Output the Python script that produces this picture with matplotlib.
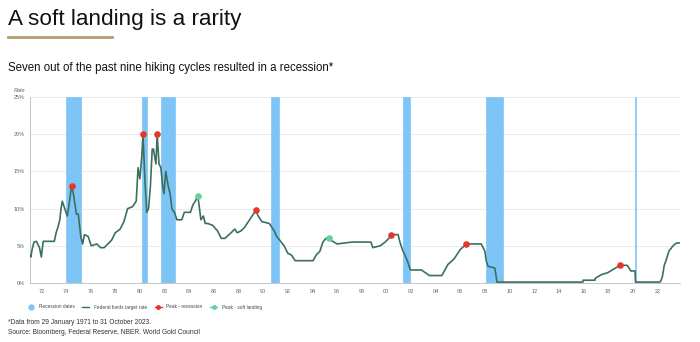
import matplotlib.pyplot as plt
from matplotlib.lines import Line2D

plt.rcParams['font.family'] = ['Liberation Sans', 'DejaVu Sans']

# federal funds target rate, change points (decimal year, %)
years = [1971.08, 1971.15, 1971.25, 1971.4, 1971.6, 1971.85, 1972.0, 1972.15, 1973.05,
         1973.2, 1973.35, 1973.5, 1973.6, 1973.7, 1974.1, 1974.25, 1974.45, 1974.6,
         1974.85, 1975.0, 1975.2, 1975.35, 1975.5, 1975.8, 1976.05, 1976.5, 1976.8,
         1977.1, 1977.4, 1977.7, 1978.0, 1978.4, 1978.7, 1979.0, 1979.4, 1979.7,
         1979.85, 1980.0, 1980.15, 1980.25, 1980.4, 1980.55, 1980.7, 1980.85, 1981.0,
         1981.1, 1981.3, 1981.4, 1981.55, 1981.7, 1981.85, 1981.95, 1982.1, 1982.3,
         1982.45, 1982.6, 1982.8, 1983.0, 1983.4, 1983.6, 1984.1, 1984.3, 1984.5,
         1984.7, 1984.95, 1985.15, 1985.3, 1985.5, 1985.9, 1986.3, 1986.6, 1986.9,
         1987.4, 1987.7, 1987.9, 1988.2, 1988.5, 1988.8, 1989.1, 1989.4, 1989.6,
         1989.9, 1990.5, 1990.9, 1991.1, 1991.35, 1991.7, 1992.0, 1992.3, 1992.6,
         1994.05, 1994.3, 1994.6, 1994.85, 1995.1, 1995.5, 1996.0, 1997.2, 1998.75,
         1998.9, 1999.5, 1999.9, 2000.2, 2000.4, 2000.95, 2001.1, 2001.3, 2001.5,
         2001.7, 2001.95, 2002.85, 2003.5, 2004.5, 2005.0, 2005.5, 2006.0, 2006.5,
         2007.7, 2007.85, 2008.0, 2008.1, 2008.25, 2008.8, 2008.9, 2008.97,
         2015.95, 2015.97, 2016.93, 2016.95, 2017.2, 2017.45, 2017.95, 2018.2, 2018.45,
         2018.7, 2018.96, 2019.55, 2019.65, 2019.75, 2019.83, 2020.18, 2020.22, 2022.2,
         2022.3, 2022.4, 2022.48, 2022.55, 2022.72, 2022.85, 2022.96, 2023.1, 2023.2,
         2023.35, 2023.55, 2023.83]
rates = [3.7, 3.5, 4.5, 5.5, 5.6, 4.75, 3.5, 5.6, 5.6,
         6.75, 7.5, 8.5, 10.0, 11.0, 9.0, 10.5, 13.0, 12.0,
         9.25, 9.25, 6.25, 5.25, 6.5, 6.25, 5.0, 5.25, 4.75,
         4.75, 5.25, 5.75, 6.75, 7.25, 8.25, 10.0, 10.25, 11.0,
         15.5, 14.0, 17.0, 20.0, 14.0, 9.5, 10.0, 13.0, 18.0,
         18.0, 16.0, 20.0, 16.0, 15.5, 13.0, 12.0, 15.0, 13.0,
         12.0, 10.0, 9.5, 8.5, 8.5, 9.5, 9.5, 10.5, 11.0,
         11.75, 8.5, 9.0, 8.0, 8.0, 7.75, 7.0, 6.0, 6.0,
         6.75, 7.25, 6.75, 7.0, 7.5, 8.25, 9.0, 9.75, 9.0,
         8.25, 8.0, 7.0, 6.25, 5.75, 5.0, 4.0, 3.75, 3.0,
         3.0, 3.75, 4.25, 5.5, 6.0, 5.75, 5.25, 5.5, 5.5,
         4.75, 5.0, 5.5, 6.0, 6.5, 6.5, 5.5, 4.5, 3.75,
         3.0, 1.75, 1.75, 1.0, 1.0, 2.5, 3.25, 4.5, 5.25,
         5.25, 4.75, 4.25, 3.0, 2.25, 2.0, 1.0, 0.125,
         0.125, 0.375, 0.375, 0.625, 0.875, 1.125, 1.375, 1.625, 1.875,
         2.125, 2.375, 2.375, 2.125, 1.875, 1.625, 1.625, 0.125, 0.125,
         0.375, 0.875, 1.625, 2.375, 3.125, 3.875, 4.375, 4.625, 4.875,
         5.125, 5.375, 5.375]

# recession periods (start, end)
rec_start = [1974.0, 1980.17, 1981.7, 1990.65, 2001.38, 2008.09, 2020.2]
rec_end = [1975.24, 1980.57, 1982.87, 1991.25, 2001.93, 2009.5, 2020.28]

# peaks
rec_peak_x = [1974.45, 1980.25, 1981.4, 1989.4, 2000.4, 2006.5, 2018.96]
rec_peak_y = [13.0, 20.0, 20.0, 9.75, 6.5, 5.25, 2.375]
soft_peak_x = [1984.7, 1995.35]
soft_peak_y = [11.75, 6.0]

tick_years = list(range(1972, 2023, 2))
tick_labels = [str(y)[2:] for y in tick_years]

band_col = '#7dc5f7'
line_col = '#3b7060'
red = '#e8342b'
green = '#63d29b'

fig = plt.figure(figsize=(7, 3.42), dpi=100)
ax = fig.add_axes([30 / 700, 59 / 342, 650 / 700, 186 / 342])

for s, e in zip(rec_start, rec_end):
    ax.axvspan(s, e, facecolor=band_col, edgecolor=band_col, lw=0.5, zorder=1)
ax.plot(years, rates, color=line_col, lw=1.2, zorder=3)
ax.scatter(rec_peak_x, rec_peak_y, s=14, color=red, zorder=4)
ax.scatter(soft_peak_x, soft_peak_y, s=14, color=green, zorder=4)

ax.set_xlim(1971.08, 2023.83)
ax.set_ylim(0, 25)
ax.set_yticks([0, 5, 10, 15, 20, 25])
ax.set_yticklabels(['0%', '5%', '10%', '15%', '20%', '25%'])
ax.set_xticks(tick_years)
ax.set_xticklabels(tick_labels)
ax.tick_params(labelsize=4, colors='#666666', length=0, pad=4)
ax.grid(axis='y', color='#dddddd', lw=0.6, ls=(0, (2, 1)))
ax.set_axisbelow(True)
for sp in ['top', 'right']:
    ax.spines[sp].set_visible(False)
for sp in ['left', 'bottom']:
    ax.spines[sp].set_color('#bbbbbb')
    ax.spines[sp].set_linewidth(0.6)
ax.text(-0.025, 1.034, 'Rate', transform=ax.transAxes, fontsize=4,
        style='italic', color='#666666', ha='left', va='center')

handles = [
    Line2D([], [], marker='o', ls='None', color=band_col, markersize=3.5),
    Line2D([], [], color=line_col, lw=1),
    Line2D([], [], color=red, lw=1, marker='o', markersize=2.5),
    Line2D([], [], color=green, lw=1, marker='o', markersize=2.5),
]
labels = ['Recession dates', 'Federal funds target rate', 'Peak - recession',
          'Peak - soft landing']
fig.legend(handles, labels, loc='center left', bbox_to_anchor=(23 / 700, 1 - 307 / 342),
           ncol=4, frameon=False, fontsize=3.4, handlelength=1.5, columnspacing=1.7,
           handletextpad=0.9, labelcolor='#444444')

fig.text(8 / 700, 1 - 20 / 342, 'A soft landing is a rarity', fontsize=16.2,
         ha='left', va='center', color='#111111')
fig.add_artist(Line2D([8 / 700, 112 / 700], [1 - 37 / 342, 1 - 37 / 342],
                      color='#b39c6e', lw=2))
fig.text(8 / 700, 1 - 68 / 342,
         'Seven out of the past nine hiking cycles resulted in a recession*',
         fontsize=8.3, ha='left', va='center', color='#111111')
fig.text(8 / 700, 1 - 323 / 342, '*Data from 29 January 1971 to 31 October 2023.',
         fontsize=4.8, ha='left', va='center', color='#333333')
fig.text(8 / 700, 1 - 333 / 342,
         'Source: Bloomberg, Federal Reserve, NBER. World Gold Council',
         fontsize=4.8, ha='left', va='center', color='#333333')

fig.savefig('out.png', dpi=100)
